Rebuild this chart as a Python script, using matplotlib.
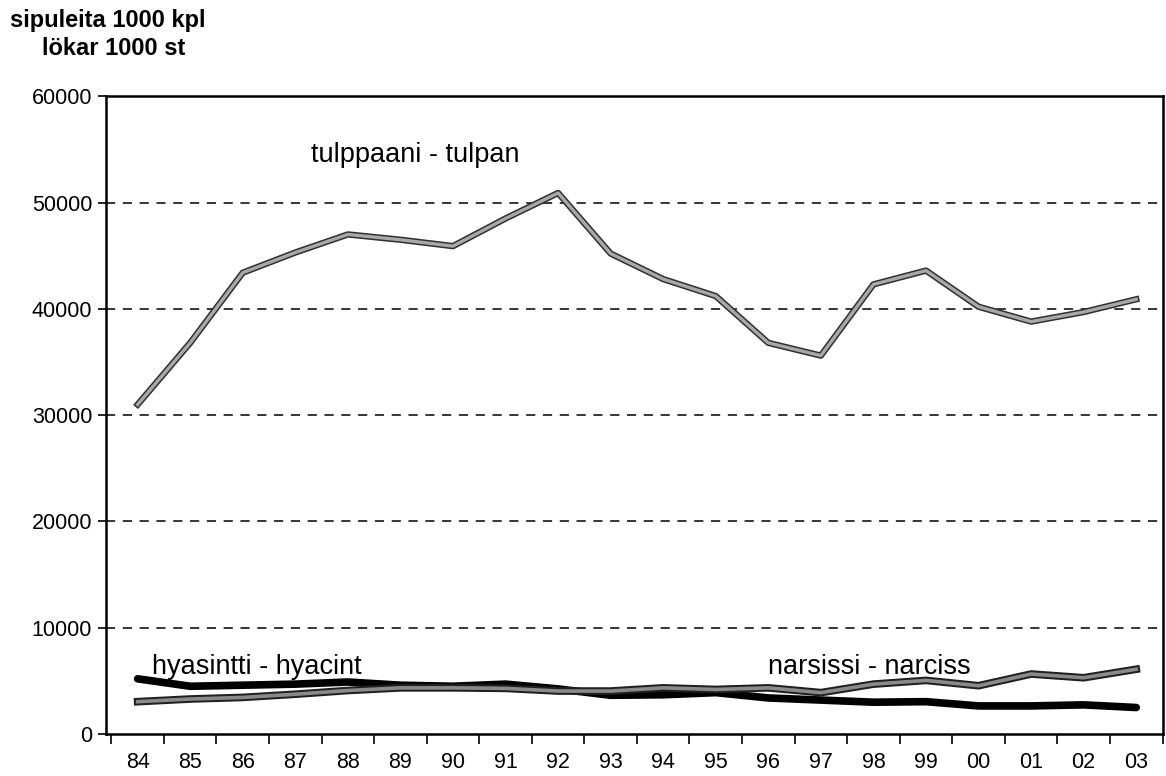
import matplotlib.pyplot as plt
import matplotlib.patheffects as pe

years = ["84", "85", "86", "87", "88", "89", "90", "91", "92", "93",
         "94", "95", "96", "97", "98", "99", "00", "01", "02", "03"]
tulip = [31000, 36800, 43400, 45300, 47000, 46500, 45900, 48500, 50900, 45200,
         42800, 41200, 36800, 35600, 42300, 43600, 40200, 38800, 39700, 40900]
hyacinth = [5200, 4500, 4600, 4700, 4900, 4600, 4500, 4700, 4250, 3650,
            3700, 3900, 3400, 3200, 3000, 3050, 2650, 2650, 2750, 2500]
narcissus = [3050, 3300, 3450, 3750, 4100, 4350, 4350, 4300, 4050, 4050,
             4350, 4200, 4350, 3900, 4700, 5050, 4550, 5650, 5300, 6100]
yticks = [0, 10000, 20000, 30000, 40000, 50000, 60000]

plt.rcParams["font.family"] = ["Liberation Sans", "DejaVu Sans"]

fig = plt.figure(figsize=(11.66, 7.76), dpi=100)
ax = fig.add_axes([0.091, 0.054, 0.906, 0.822])

x = list(range(len(years)))

# tulip: light grey line with a dark edge
ax.plot(x, tulip, color="#a8a8a8", lw=2.4, solid_joinstyle="round",
        path_effects=[pe.Stroke(linewidth=4.6, foreground="#303030"), pe.Normal()], zorder=3)
# narcissus: grey with dark edge
ax.plot(x, narcissus, color="#8a8a8a", lw=2.6, solid_joinstyle="round",
        path_effects=[pe.Stroke(linewidth=5.5, foreground="#202020"), pe.Normal()], zorder=4)
# hyacinth: solid black
ax.plot(x, hyacinth, color="black", lw=5.5, solid_capstyle="round", zorder=3)

for y in yticks[1:-1]:
    ax.axhline(y, color="black", lw=1.1, ls=(0, (6, 5)), zorder=1)

ax.set_xlim(-0.6, 19.5)
ax.set_ylim(0, 60000)
ax.set_yticks(yticks)
ax.set_yticklabels([str(v) for v in yticks], fontsize=15.5)
ax.tick_params(axis="y", direction="out", length=6, width=1.2, pad=4)

ax.set_xticks([i - 0.5 for i in range(len(years) + 1)])
ax.set_xticklabels([])
ax.set_xticks(x, minor=True)
ax.set_xticklabels(years, minor=True, fontsize=15.5)
ax.tick_params(axis="x", which="major", direction="out", length=7, width=1.2)
ax.tick_params(axis="x", which="minor", length=0, pad=13)

for s in ax.spines.values():
    s.set_linewidth(1.8)
    s.set_color("black")

ax.text(3.3, 54500, "tulppaani - tulpan", fontsize=19.5, va="center", ha="left")
ax.text(0.28, 6300, "hyasintti - hyacint", fontsize=19.5, va="center", ha="left", zorder=5)
ax.text(12.0, 6300, "narsissi - narciss", fontsize=19.5, va="center", ha="left", zorder=5)

fig.text(0.009, 0.974, "sipuleita 1000 kpl", fontsize=17, fontweight="bold", va="center")
fig.text(0.036, 0.937, "lökar 1000 st", fontsize=17, fontweight="bold", va="center")

fig.savefig("out.png", dpi=100)
